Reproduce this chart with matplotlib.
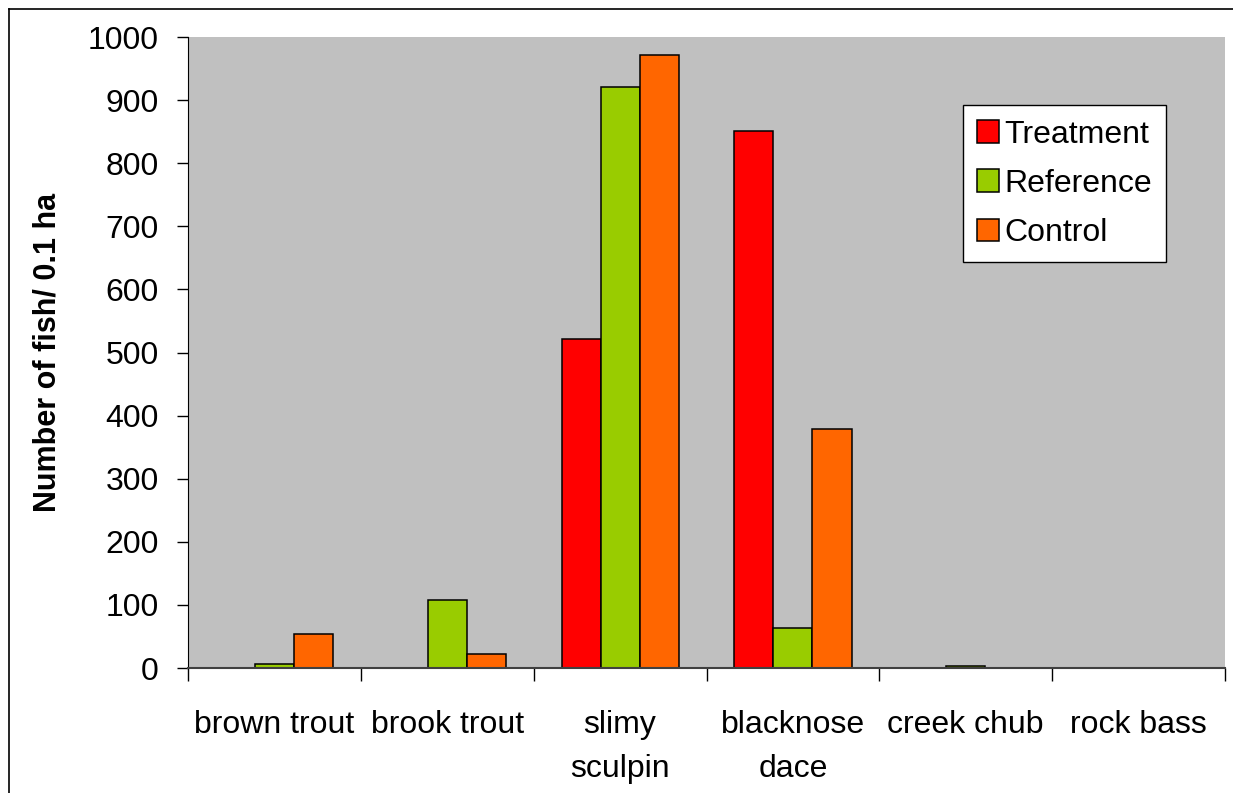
import matplotlib.pyplot as plt
import numpy as np
from matplotlib.lines import Line2D

plt.rcParams['font.family'] = ['Liberation Sans', 'DejaVu Sans']

species = ['brown trout', 'brook trout', 'slimy\nsculpin', 'blacknose\ndace', 'creek chub', 'rock bass']
treatment = [0, 0, 522, 851, 0, 0]
reference = [6, 108, 921, 63, 3, 0]
control = [54, 22, 972, 379, 0, 0]

series = [('Treatment', treatment, '#FF0000'),
          ('Reference', reference, '#99CC00'),
          ('Control', control, '#FF6600')]

fig = plt.figure(figsize=(12.33, 7.93), dpi=100)
ax = fig.add_axes([0.1525, 0.1576, 0.8410, 0.7957])
ax.set_facecolor('#C0C0C0')

x = np.arange(len(species))
w = 0.226
for i, (name, vals, col) in enumerate(series):
    ax.bar(x + (i - 1) * w, vals, w, color=col, edgecolor='black', linewidth=1.1, label=name)

ax.set_xlim(-0.5, len(species) - 0.5)
ax.set_ylim(0, 1000)
ax.set_yticks(np.arange(0, 1001, 100))
ax.tick_params(axis='y', labelsize=23, length=8, width=1, pad=13)

# category boundaries get the tick marks, centres get the labels
ax.set_xticks(np.arange(-0.5, len(species)), labels=[])
ax.set_xticks(x, labels=species, minor=True)
ax.tick_params(axis='x', which='major', length=9, width=1)
ax.tick_params(axis='x', which='minor', length=0, labelsize=23, pad=30)
for lbl in ax.get_xticklabels(minor=True):
    lbl.set_linespacing(1.62)

for s in ['top', 'right']:
    ax.spines[s].set_visible(False)
ax.spines['left'].set_color('black')
ax.spines['bottom'].set_color('#404040')
ax.spines['bottom'].set_linewidth(1.5)

ax.set_ylabel('Number of fish/ 0.1 ha', fontsize=22, fontweight='bold', labelpad=18)

leg = ax.legend(loc='upper left', bbox_to_anchor=(0.747, 0.892), fontsize=23,
                fancybox=False, edgecolor='black', framealpha=1,
                handlelength=0.7, handleheight=0.7, handletextpad=0.15,
                labelspacing=0.6, borderpad=0.45, borderaxespad=0)
leg.get_frame().set_linewidth(1)

# outer chart frame
fig.add_artist(Line2D([0.0075, 0.0075], [0, 0.989], color='black', lw=1.2))
fig.add_artist(Line2D([0.0075, 1], [0.989, 0.989], color='black', lw=1.2))

fig.savefig('out.png', dpi=100)
